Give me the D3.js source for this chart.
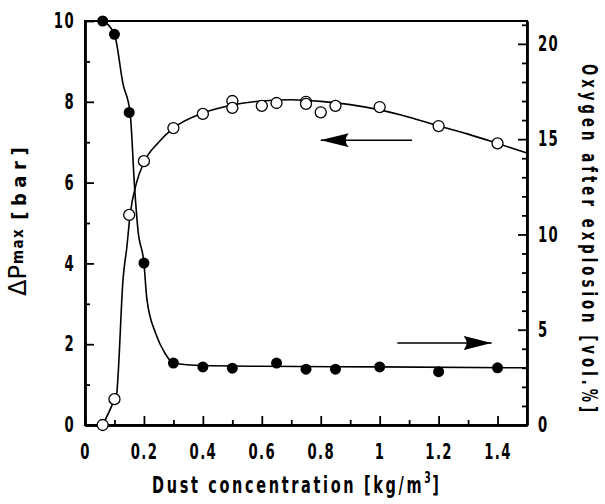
<!DOCTYPE html>
<html>
<head>
<meta charset="utf-8">
<script src="https://cdn.jsdelivr.net/npm/d3@7"></script>
<style>
  body { margin: 0; background: #fff; }
  svg { display: block; }
  .tick text { font-family: "DejaVu Sans Condensed", sans-serif; font-weight: bold; }
</style>
</head>
<body>
<div id="chart"></div>
<script>
// Max. explosion pressure (open circles, left axis)
let pressureX = [0.06, 0.1, 0.15, 0.2, 0.3, 0.4, 0.5, 0.5, 0.6, 0.65, 0.75, 0.75, 0.8, 0.85, 1.0, 1.2, 1.4];
let pressureY = [0, 0.64, 5.2, 6.53, 7.35, 7.7, 8.02, 7.85, 7.9, 7.97, 8.0, 7.95, 7.74, 7.9, 7.87, 7.4, 6.97];
// fitted line through the pressure points
let pressureFitX = [0.06, 0.1, 0.108, 0.112, 0.129, 0.142, 0.153, 0.175, 0.2, 0.25, 0.3, 0.4, 0.5, 0.6, 0.7, 0.8, 0.9, 1.0, 1.1, 1.2, 1.3, 1.4, 1.5];
let pressureFitY = [0, 0.64, 0.8, 1.2, 3.6, 4.4, 5.2, 6.0, 6.5, 7.0, 7.35, 7.72, 7.92, 8.02, 8.05, 8.01, 7.93, 7.8, 7.62, 7.4, 7.2, 6.97, 6.73];

// Oxygen after explosion (filled circles, right axis)
let oxygenX = [0.06, 0.1, 0.15, 0.2, 0.3, 0.4, 0.5, 0.65, 0.75, 0.85, 1.0, 1.2, 1.4];
let oxygenY = [21.2, 20.5, 16.4, 8.5, 3.25, 3.05, 2.98, 3.25, 2.93, 2.93, 3.05, 2.8, 3.0];
let oxygenFitX = [0.06, 0.1, 0.129, 0.153, 0.169, 0.18, 0.2, 0.21, 0.24, 0.27, 0.3, 0.4, 0.6, 1.0, 1.5];
let oxygenFitY = [21.2, 20.5, 17.9, 16.4, 12.3, 10.2, 8.5, 6.6, 4.8, 3.8, 3.25, 3.12, 3.08, 3.05, 3.0];

// tick labels
let xTicks = [0, 0.2, 0.4, 0.6, 0.8, 1, 1.2, 1.4];
let xTickLabels = ['0', '0.2', '0.4', '0.6', '0.8', '1', '1.2', '1.4'];
let xMinorTicks = [0.1, 0.3, 0.5, 0.7, 0.9, 1.1, 1.3];
let leftTicks = [0, 2, 4, 6, 8, 10];
let leftMinorTicks = [1, 3, 5, 7, 9];
let rightTicks = [0, 5, 10, 15, 20];
let rightMinorTicks = [1, 2, 3, 4, 6, 7, 8, 9, 11, 12, 13, 14, 16, 17, 18, 19, 21];

// arrows: [x start, x end, y on left axis]
let arrowToLeft = [1.11, 0.8, 7.05];
let arrowToRight = [1.06, 1.38, 2.03];

let width = 605;
let height = 504;
let margin = { top: 21, right: 78, bottom: 79, left: 85 };
// narrow lettering of the original
let squeeze = 0.7;

let svg = d3.select('#chart')
  .append('svg')
  .attr('width', width)
  .attr('height', height);

let x = d3.scaleLinear().domain([0, 1.5]).range([margin.left, width - margin.right]);
let yLeft = d3.scaleLinear().domain([0, 10]).range([height - margin.bottom, margin.top]);
let yRight = d3.scaleLinear().domain([0, 21.2]).range([height - margin.bottom, margin.top]);

let bottom = height - margin.bottom;
let right = width - margin.right;

// Frame
svg.append('rect')
  .attr('x', margin.left)
  .attr('y', margin.top)
  .attr('width', right - margin.left)
  .attr('height', bottom - margin.top)
  .attr('fill', 'none')
  .attr('stroke', '#000')
  .attr('stroke-width', 2);

// Axes (ticks point inward)
function styleAxis(g) {
  g.select('.domain').attr('stroke-width', 2.4);
  g.selectAll('.tick line').attr('stroke-width', 1.8);
}

// squeeze tick labels horizontally, keeping their anchor point
function narrowLabels(g) {
  g.selectAll('.tick text')
    .attr('font-size', 21)
    .attr('letter-spacing', 2)
    .attr('x', function () { return (+d3.select(this).attr('x') || 0) / squeeze; })
    .attr('transform', 'scale(' + squeeze + ',1)');
}

svg.append('g')
  .attr('transform', 'translate(0,' + bottom + ')')
  .call(d3.axisBottom(x).tickValues(xMinorTicks).tickSize(-5).tickSizeOuter(0).tickFormat(''))
  .call(styleAxis);
svg.append('g')
  .attr('transform', 'translate(0,' + bottom + ')')
  .call(d3.axisBottom(x).tickValues(xTicks).tickSize(-9).tickSizeOuter(0)
    .tickFormat((d, i) => xTickLabels[i]).tickPadding(19))
  .call(styleAxis)
  .call(narrowLabels);

svg.append('g')
  .attr('transform', 'translate(' + margin.left + ',0)')
  .call(d3.axisLeft(yLeft).tickValues(leftMinorTicks).tickSize(-5).tickSizeOuter(0).tickFormat(''))
  .call(styleAxis);
svg.append('g')
  .attr('transform', 'translate(' + margin.left + ',0)')
  .call(d3.axisLeft(yLeft).tickValues(leftTicks).tickSize(-9).tickSizeOuter(0).tickPadding(10))
  .call(styleAxis)
  .call(narrowLabels);

svg.append('g')
  .attr('transform', 'translate(' + right + ',0)')
  .call(d3.axisRight(yRight).tickValues(rightMinorTicks).tickSize(-5).tickSizeOuter(0).tickFormat(''))
  .call(styleAxis);
svg.append('g')
  .attr('transform', 'translate(' + right + ',0)')
  .call(d3.axisRight(yRight).tickValues(rightTicks).tickSize(-9).tickSizeOuter(0).tickPadding(11))
  .call(styleAxis)
  .call(narrowLabels);

// Fitted curves
let pressureLine = d3.line()
  .x((d) => x(d[0]))
  .y((d) => yLeft(d[1]))
  .curve(d3.curveMonotoneX);
let oxygenLine = d3.line()
  .x((d) => x(d[0]))
  .y((d) => yRight(d[1]))
  .curve(d3.curveMonotoneX);

svg.append('path')
  .datum(d3.zip(pressureFitX, pressureFitY))
  .attr('d', pressureLine)
  .attr('fill', 'none')
  .attr('stroke', '#000')
  .attr('stroke-width', 1.6);

svg.append('path')
  .datum(d3.zip(oxygenFitX, oxygenFitY))
  .attr('d', oxygenLine)
  .attr('fill', 'none')
  .attr('stroke', '#000')
  .attr('stroke-width', 1.6);

// Points
svg.append('g')
  .selectAll('circle')
  .data(d3.zip(oxygenX, oxygenY))
  .enter()
  .append('circle')
  .attr('cx', (d) => x(d[0]))
  .attr('cy', (d) => yRight(d[1]))
  .attr('r', 5.5)
  .attr('fill', '#000');

svg.append('g')
  .selectAll('circle')
  .data(d3.zip(pressureX, pressureY))
  .enter()
  .append('circle')
  .attr('cx', (d) => x(d[0]))
  .attr('cy', (d) => yLeft(d[1]))
  .attr('r', 5.5)
  .attr('fill', '#fff')
  .attr('stroke', '#000')
  .attr('stroke-width', 1.3);

// Arrows
svg.append('defs')
  .append('marker')
  .attr('id', 'head')
  .attr('viewBox', '0 0 28 14')
  .attr('refX', 28)
  .attr('refY', 7)
  .attr('markerWidth', 28)
  .attr('markerHeight', 14)
  .attr('markerUnits', 'userSpaceOnUse')
  .attr('orient', 'auto')
  .append('path')
  .attr('d', 'M0,0 L28,7 L0,14 Q6,7 0,0 Z')
  .attr('fill', '#000');

[arrowToLeft, arrowToRight].forEach((a) => {
  svg.append('line')
    .attr('x1', x(a[0]))
    .attr('x2', x(a[1]))
    .attr('y1', yLeft(a[2]))
    .attr('y2', yLeft(a[2]))
    .attr('stroke', '#000')
    .attr('stroke-width', 1.6)
    .attr('marker-end', 'url(#head)');
});

// Axis titles
let titleFont = 'bold 23px "DejaVu Sans Condensed", sans-serif';

let xTitle = svg.append('g')
  .attr('transform', 'translate(152,493) scale(' + squeeze + ',1)')
  .append('text')
  .style('font', titleFont)
  .attr('letter-spacing', 3.8);
xTitle.append('tspan').text('Dust concentration [kg/m');
xTitle.append('tspan').attr('dy', -10).attr('font-size', 15).attr('letter-spacing', 2).text('3');
xTitle.append('tspan').attr('dy', 10).text(']');

let leftTitle = svg.append('text')
  .attr('transform', 'translate(26,296) rotate(-90)');
leftTitle.append('tspan')
  .style('font', '24px "DejaVu Sans", sans-serif')
  .text('ΔP');
leftTitle.append('tspan')
  .attr('dy', -3)
  .attr('dx', 1)
  .style('font', 'bold 15px "DejaVu Sans Condensed", sans-serif')
  .attr('letter-spacing', 1.5)
  .text('max');
leftTitle.append('tspan')
  .attr('dy', 3)
  .attr('dx', 8)
  .style('font', 'bold 20px "DejaVu Sans Condensed", sans-serif')
  .attr('letter-spacing', 5.5)
  .text('[bar]');

svg.append('g')
  .attr('transform', 'translate(582,64) rotate(90) scale(' + squeeze + ',1)')
  .append('text')
  .style('font', 'bold 21px "DejaVu Sans Condensed", sans-serif')
  .attr('letter-spacing', 5.8)
  .text('Oxygen after explosion [vol.%]');
</script>
</body>
</html>
